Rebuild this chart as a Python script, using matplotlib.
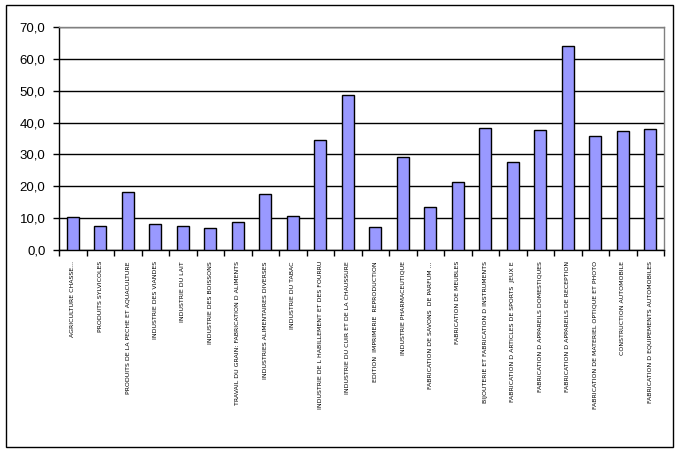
import matplotlib
matplotlib.use("Agg")
import matplotlib.pyplot as plt
from matplotlib.patches import Rectangle
from matplotlib.ticker import FixedLocator, NullFormatter

categories = [
    "AGRICULTURE CHASSE...",
    "PRODUITS SYLVICOLES",
    "PRODUITS DE LA PECHE ET AQUACULTURE",
    "INDUSTRIE DES VIANDES",
    "INDUSTRIE DU LAIT",
    "INDUSTRIE DES BOISSONS",
    "TRAVAIL DU GRAIN: FABRICATION D ALIMENTS",
    "INDUSTRIES ALIMENTAIRES DIVERSES",
    "INDUSTRIE DU TABAC",
    "INDUSTRIE DE L HABILLEMENT ET DES FOURRU",
    "INDUSTRIE DU CUIR ET DE LA CHAUSSURE",
    "EDITION  IMPRIMERIE  REPRODUCTION",
    "INDUSTRIE PHARMACEUTIQUE",
    "FABRICATION DE SAVONS  DE PARFUM ...",
    "FABRICATION DE MEUBLES",
    "BIJOUTERIE ET FABRICATION D INSTRUMENTS",
    "FABRICATION D ARTICLES DE SPORTS  JEUX E",
    "FABRICATION D APPAREILS DOMESTIQUES",
    "FABRICATION D APPAREILS DE RECEPTION",
    "FABRICATION DE MATERIEL OPTIQUE ET PHOTO",
    "CONSTRUCTION AUTOMOBILE",
    "FABRICATION D EQUIPEMENTS AUTOMOBILES",
]
values = [10.3, 7.5, 18.2, 8.2, 7.5, 6.9, 8.8, 17.6, 10.7, 34.4, 48.5, 7.2,
          29.1, 13.4, 21.2, 38.2, 27.5, 37.6, 64.0, 35.7, 37.3, 37.9]
y_ticks = [0, 10, 20, 30, 40, 50, 60, 70]
y_tick_labels = ["0,0", "10,0", "20,0", "30,0", "40,0", "50,0", "60,0", "70,0"]

W, H = 679, 451
fig = plt.figure(figsize=(W / 100, H / 100), dpi=100)
fig.patch.set_facecolor("white")

# outer chart frame
fig.patches.append(Rectangle((5.5 / W, 1 - 446.5 / H), (673 - 5.5) / W, (446.5 - 5) / H,
                             transform=fig.transFigure, fill=False,
                             edgecolor="black", linewidth=1.0))

left, right, top, bottom = 59, 664, 27, 250
ax = fig.add_axes([left / W, 1 - bottom / H, (right - left) / W, (bottom - top) / H])

x = list(range(len(categories)))
ax.bar(x, values, width=0.42, color="#9999FF", edgecolor="black", linewidth=1.0, zorder=3)

ax.set_xlim(-0.5, len(categories) - 0.5)
ax.set_ylim(0, 70)
ax.set_yticks(y_ticks)
ax.set_yticklabels(y_tick_labels, fontfamily="Liberation Sans", fontsize=9.5)
ax.yaxis.grid(True, color="black", linewidth=1.0, zorder=0)
ax.tick_params(axis="y", direction="out", length=4.3, width=1, pad=5.5)

ax.set_xticks(x)
ax.set_xticklabels(categories, rotation=90, fontfamily="DejaVu Sans", fontsize=4.5,
                   va="top", ha="center")
ax.tick_params(axis="x", which="major", length=0, pad=8)
ax.xaxis.set_minor_locator(FixedLocator([i - 0.5 for i in range(len(categories) + 1)]))
ax.xaxis.set_minor_formatter(NullFormatter())
ax.tick_params(axis="x", which="minor", direction="out", length=4, width=1)

for s in ["top", "right"]:
    ax.spines[s].set_color("#808080")
    ax.spines[s].set_linewidth(1.0)
for s in ["left", "bottom"]:
    ax.spines[s].set_color("black")
    ax.spines[s].set_linewidth(1.0)
ax.set_axisbelow(True)

fig.savefig("out.png", dpi=100, facecolor="white")
